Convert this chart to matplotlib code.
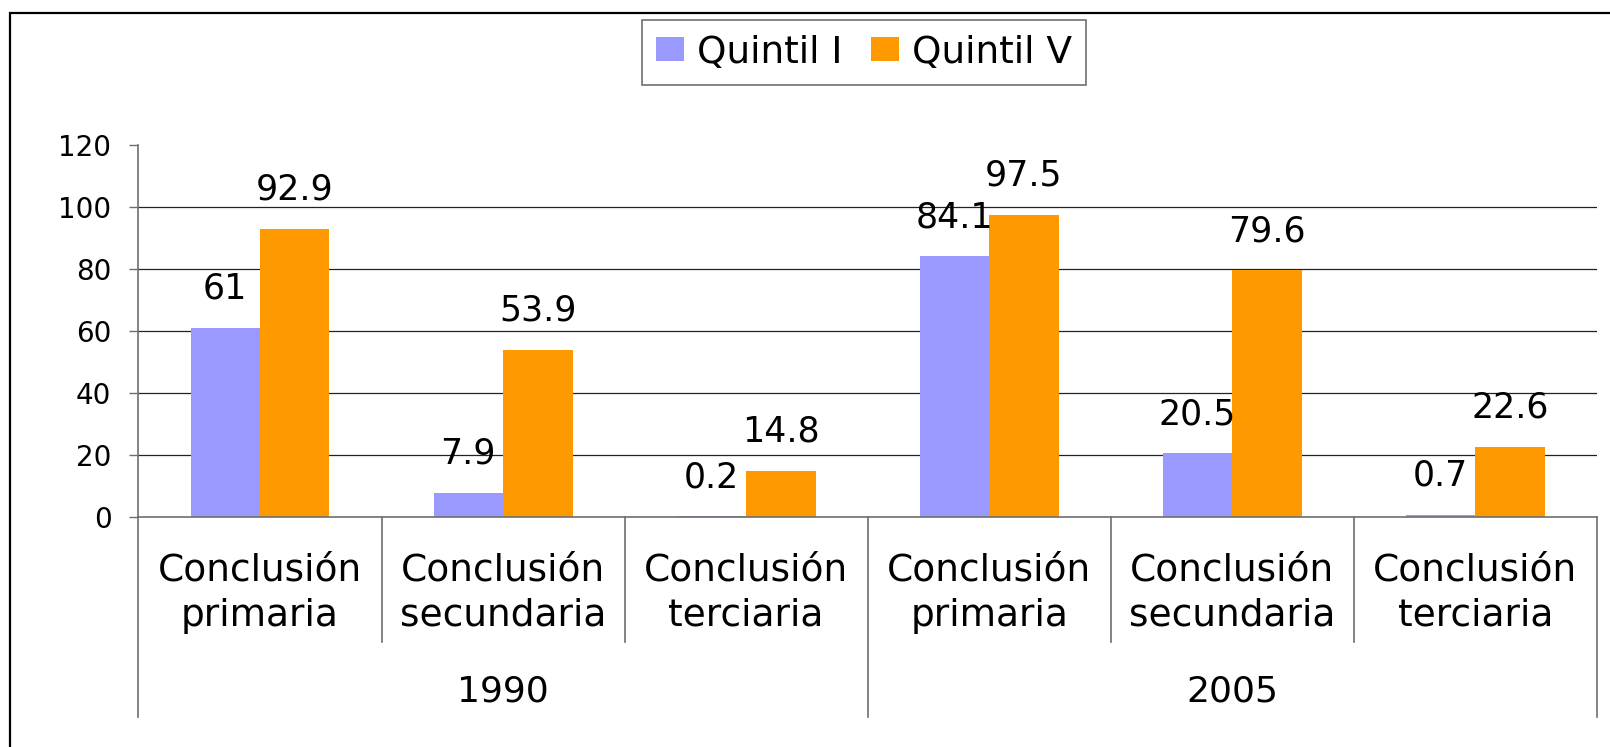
import matplotlib
matplotlib.use("Agg")
import matplotlib.pyplot as plt
from matplotlib.patches import Rectangle
import numpy as np

plt.rcParams['font.family'] = ['DejaVu Sans']

# --- datos ---
anios = ["1990", "2005"]
niveles = ["Conclusión\nprimaria", "Conclusión\nsecundaria", "Conclusión\nterciaria"]
quintil_1 = [61, 7.9, 0.2, 84.1, 20.5, 0.7]
quintil_5 = [92.9, 53.9, 14.8, 97.5, 79.6, 22.6]
marcas_y = [0, 20, 40, 60, 80, 100, 120]

AZUL = '#9999FF'
NARANJA = '#FF9900'
GRIS = '#6e6e6e'

fig = plt.figure(figsize=(16.1, 7.47), dpi=100)
ax = fig.add_axes([0.0860, 0.3079, 0.9059, 0.4980])

x = np.arange(len(quintil_1))
ancho = 1 / 3.5  # gap 150%
b1 = ax.bar(x - ancho / 2, quintil_1, ancho, color=AZUL, label='Quintil I', zorder=2)
b2 = ax.bar(x + ancho / 2, quintil_5, ancho, color=NARANJA, label='Quintil V', zorder=2)

# etiquetas de valores
for barras, valores in [(b1, quintil_1), (b2, quintil_5)]:
    for r, v in zip(barras, valores):
        ax.annotate(f"{v:g}", (r.get_x() + r.get_width() / 2, v), xytext=(0, 21),
                    textcoords='offset points', ha='center', va='baseline', fontsize=25)

ax.set_xlim(-0.5, len(x) - 0.5)
ax.set_ylim(0, 120)
ax.set_yticks(marcas_y)
ax.set_xticks([])
ax.tick_params(axis='y', length=6.5, width=1, color=GRIS, pad=13, labelsize=20)

# lineas de division horizontales (sin la de 120)
ax.hlines(marcas_y[1:-1], -0.5, len(x) - 0.5, color='#222222', lw=0.9, zorder=1)

for lado in ['top', 'right']:
    ax.spines[lado].set_visible(False)
for lado in ['left', 'bottom']:
    ax.spines[lado].set_color(GRIS)
    ax.spines[lado].set_linewidth(1.2)

# ejes de categorias (dos niveles)
tr = ax.get_xaxis_transform()
n = len(niveles)
for i in range(len(x) + 1):
    xb = i - 0.5
    fondo = -0.5376 if i % n == 0 else -0.336
    ax.plot([xb, xb], [0, fondo], transform=tr, color=GRIS, lw=1.2, clip_on=False)

for i in range(len(x)):
    linea1, linea2 = niveles[i % n].split("\n")
    ax.text(i, -0.172, linea1, transform=tr, ha='center', va='baseline', fontsize=27)
    ax.text(i, -0.293, linea2, transform=tr, ha='center', va='baseline', fontsize=27)

for j, anio in enumerate(anios):
    ax.text(j * n + (n - 1) / 2, -0.497, anio, transform=tr, ha='center', va='baseline', fontsize=26)

ley = fig.legend(loc='center', bbox_to_anchor=(864 / 1610, 1 - 52.5 / 747), ncol=2, fontsize=27,
                 frameon=True, fancybox=False, edgecolor='#707070', framealpha=1,
                 handlelength=0.75, handleheight=0.6, handletextpad=0.35,
                 columnspacing=0.75, borderpad=0.38)
ley.get_frame().set_linewidth(1.2)

# borde exterior
fig.add_artist(Rectangle((10 / 1610, -0.5), 2, 0.5 + 1 - 12.5 / 747, transform=fig.transFigure,
                         fill=False, edgecolor='black', lw=1.6))

fig.savefig("out.png", dpi=100)
